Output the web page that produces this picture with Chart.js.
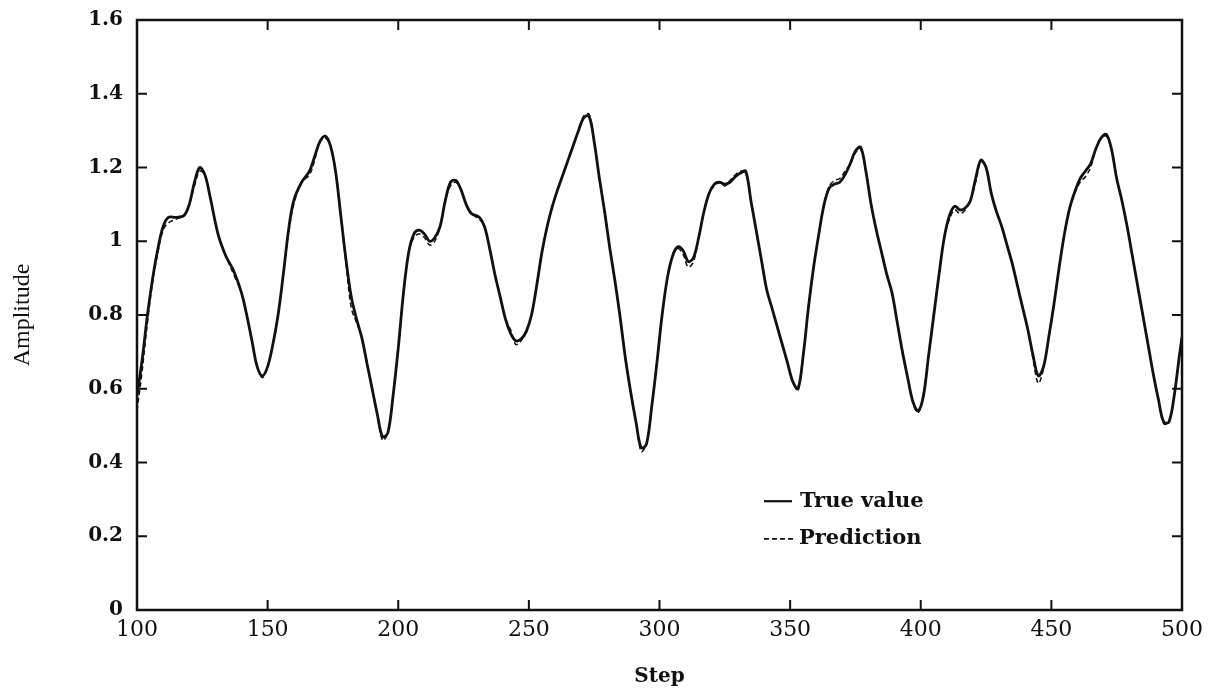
<!DOCTYPE html>
<html>
<head>
<meta charset="utf-8">
<script src="https://cdn.jsdelivr.net/npm/chart.js@4/dist/chart.umd.min.js"></script>
<style>
  html, body { margin:0; padding:0; background:#fff; }
  #wrap { width:1217px; height:692px; }
</style>
</head>
<body>
<div id="wrap"><canvas id="chart" width="1217" height="692"></canvas></div>
<script>
// Datos
const steps = [
  100,102,104,106,108,110,112,115,118,120,
  122,124,126,128,131,134,137,140,142,144,
  146,148,150,152,154,156,158,160,163,166,
  168,170,172,174,176,178,180,182,184,186,
  188,190,192,194,196,198,200,202,204,206,
  208,210,212,214,216,218,220,222,224,226,
  228,231,233,235,237,239,241,243,245,247,
  249,251,253,255,257,259,261,263,265,267,
  269,271,273,275,277,279,281,283,285,287,
  289,291,293,295,297,299,301,303,305,307,
  309,311,313,315,317,319,321,323,325,327,
  329,331,333,335,337,339,341,343,345,347,
  349,351,353,355,357,359,361,363,365,367,
  369,371,373,375,377,379,381,383,385,387,
  389,391,393,395,397,399,401,403,405,407,
  409,411,413,415,417,419,421,423,425,427,
  429,431,433,435,437,439,441,443,445,447,
  449,451,453,455,457,459,461,463,465,467,
  469,471,473,475,477,479,481,483,485,487,
  489,491,493,495,497,499,500
];

const trueValue = [
  0.58,0.68,0.80,0.90,0.98,1.04,1.065,1.065,1.07,1.10,
  1.16,1.20,1.18,1.12,1.02,0.96,0.92,0.86,0.80,0.73,
  0.66,0.635,0.66,0.72,0.80,0.91,1.03,1.11,1.16,1.19,
  1.23,1.27,1.285,1.26,1.19,1.07,0.95,0.85,0.79,0.74,
  0.67,0.60,0.53,0.47,0.48,0.58,0.71,0.86,0.97,1.02,
  1.03,1.02,1.00,1.01,1.04,1.11,1.16,1.165,1.14,1.10,
  1.075,1.065,1.04,0.98,0.91,0.85,0.79,0.75,0.73,0.735,
  0.755,0.80,0.88,0.97,1.04,1.095,1.14,1.18,1.22,1.26,
  1.30,1.335,1.34,1.27,1.17,1.08,0.98,0.89,0.79,0.68,
  0.59,0.51,0.44,0.45,0.55,0.67,0.80,0.90,0.96,0.985,
  0.975,0.945,0.955,1.01,1.08,1.13,1.155,1.16,1.155,1.16,
  1.175,1.185,1.19,1.11,1.03,0.95,0.87,0.82,0.77,0.72,
  0.67,0.62,0.60,0.69,0.82,0.93,1.02,1.10,1.145,1.155,
  1.16,1.18,1.21,1.245,1.255,1.19,1.10,1.03,0.97,0.91,
  0.86,0.78,0.70,0.63,0.565,0.54,0.58,0.69,0.80,0.91,
  1.01,1.07,1.095,1.085,1.09,1.11,1.17,1.22,1.20,1.13,
  1.08,1.04,0.99,0.94,0.88,0.82,0.76,0.69,0.635,0.66,
  0.74,0.83,0.93,1.02,1.09,1.135,1.17,1.19,1.21,1.25,
  1.28,1.29,1.25,1.17,1.11,1.04,0.96,0.88,0.80,0.72,
  0.64,0.57,0.51,0.51,0.58,0.69,0.74
];

const prediction = [
  0.54,0.65,0.78,0.89,0.97,1.03,1.05,1.06,1.07,1.10,
  1.15,1.19,1.18,1.12,1.02,0.96,0.91,0.86,0.80,0.73,
  0.66,0.63,0.66,0.72,0.80,0.91,1.02,1.10,1.16,1.18,
  1.22,1.27,1.28,1.26,1.19,1.07,0.94,0.82,0.78,0.74,
  0.67,0.60,0.53,0.46,0.48,0.58,0.71,0.86,0.97,1.01,
  1.02,1.01,0.99,1.00,1.04,1.11,1.15,1.16,1.14,1.10,
  1.075,1.06,1.04,0.98,0.91,0.85,0.79,0.76,0.72,0.73,
  0.76,0.80,0.88,0.97,1.04,1.095,1.14,1.18,1.22,1.26,
  1.30,1.34,1.345,1.27,1.17,1.08,0.98,0.89,0.79,0.68,
  0.59,0.51,0.43,0.45,0.55,0.67,0.80,0.90,0.96,0.98,
  0.965,0.93,0.945,1.01,1.08,1.13,1.15,1.16,1.15,1.165,
  1.18,1.19,1.185,1.11,1.03,0.95,0.87,0.82,0.77,0.72,
  0.67,0.62,0.595,0.69,0.82,0.93,1.02,1.10,1.15,1.165,
  1.17,1.19,1.21,1.24,1.25,1.19,1.10,1.03,0.97,0.91,
  0.86,0.78,0.70,0.63,0.56,0.535,0.58,0.69,0.80,0.91,
  1.01,1.06,1.085,1.075,1.085,1.11,1.16,1.215,1.20,1.13,
  1.08,1.04,0.99,0.94,0.88,0.82,0.76,0.68,0.615,0.655,
  0.74,0.83,0.93,1.02,1.09,1.13,1.16,1.175,1.20,1.25,
  1.28,1.285,1.25,1.17,1.11,1.04,0.96,0.88,0.80,0.72,
  0.64,0.57,0.505,0.51,0.58,0.69,0.74
];

const xTicks = [100,150,200,250,300,350,400,450,500];
const yTicks = [0,0.2,0.4,0.6,0.8,1,1.2,1.4,1.6];
const yTickLabels = ['0','0.2','0.4','0.6','0.8','1','1.2','1.4','1.6'];
const seriesNames = ['True value','Prediction'];

const INK = '#111';
const serif = "'DejaVu Serif', 'Liberation Serif', serif";
const times = "'Liberation Serif', 'DejaVu Serif', serif";

// Marco con marcas hacia dentro en los cuatro lados + leyenda interna
const framePlugin = {
  id: 'frame',
  afterDraw(chart) {
    const { ctx, chartArea: a, scales: { x, y } } = chart;
    const L = 10;
    ctx.save();
    ctx.strokeStyle = INK;
    ctx.lineWidth = 2.5;
    ctx.strokeRect(a.left, a.top, a.right - a.left, a.bottom - a.top);
    ctx.lineWidth = 2;
    ctx.beginPath();
    xTicks.slice(1, -1).forEach(v => {
      const px = x.getPixelForValue(v);
      ctx.moveTo(px, a.bottom); ctx.lineTo(px, a.bottom - L);
      ctx.moveTo(px, a.top);    ctx.lineTo(px, a.top + L);
    });
    yTicks.slice(1, -1).forEach(v => {
      const py = y.getPixelForValue(v);
      ctx.moveTo(a.left, py);  ctx.lineTo(a.left + L, py);
      ctx.moveTo(a.right, py); ctx.lineTo(a.right - L, py);
    });
    ctx.stroke();

    // leyenda
    const lx = x.getPixelForValue(340);
    const ly1 = y.getPixelForValue(0.295);
    const ly2 = y.getPixelForValue(0.193);
    ctx.lineWidth = 2.2;
    ctx.beginPath();
    ctx.moveTo(lx, ly1); ctx.lineTo(lx + 28, ly1);
    ctx.stroke();
    ctx.lineWidth = 1.8;
    ctx.setLineDash([5, 3]);
    ctx.beginPath();
    ctx.moveTo(lx, ly2); ctx.lineTo(lx + 30, ly2);
    ctx.stroke();
    ctx.setLineDash([]);
    ctx.fillStyle = INK;
    ctx.font = `bold 21px ${serif}`;
    ctx.textBaseline = 'middle';
    ctx.textAlign = 'left';
    ctx.fillText(seriesNames[0], lx + 36, ly1);
    ctx.fillText(seriesNames[1], lx + 35, ly2);
    ctx.restore();
  }
};

const toPoints = vals => steps.map((s, i) => ({ x: s, y: vals[i] }));

new Chart(document.getElementById('chart'), {
  type: 'line',
  data: {
    datasets: [
      {
        label: seriesNames[0],
        data: toPoints(trueValue),
        borderColor: INK,
        borderWidth: 2.8,
        pointRadius: 0,
        tension: 0.35,
        fill: false,
      },
      {
        label: seriesNames[1],
        data: toPoints(prediction),
        borderColor: INK,
        borderWidth: 1.5,
        borderDash: [5, 3],
        pointRadius: 0,
        tension: 0.35,
        fill: false,
      }
    ]
  },
  options: {
    responsive: false,
    animation: false,
    events: [],
    layout: { padding: { top: 20, right: 35, left: 0, bottom: 0 } },
    plugins: { legend: { display: false }, tooltip: { enabled: false } },
    scales: {
      x: {
        type: 'linear',
        min: 100, max: 500,
        afterBuildTicks: s => { s.ticks = xTicks.map(v => ({ value: v })); },
        afterFit: s => { s.height = 82; s.paddingLeft = 0; s.paddingRight = 0; },
        grid: { display: false, drawTicks: false },
        border: { display: false },
        ticks: {
          color: INK,
          padding: 7,
          maxRotation: 0,
          font: { family: serif, size: 22 },
          callback: v => String(v),
        },
        title: {
          display: true,
          text: 'Step',
          color: INK,
          font: { family: serif, size: 20, weight: 'bold' },
          padding: { top: 0, bottom: 3 },
        }
      },
      y: {
        min: 0, max: 1.6,
        afterBuildTicks: s => { s.ticks = yTicks.map(v => ({ value: v })); },
        afterFit: s => { s.width = 137; s.paddingTop = 0; s.paddingBottom = 0; },
        grid: { display: false, drawTicks: false },
        border: { display: false },
        ticks: {
          color: INK,
          padding: 14,
          font: { family: serif, size: 20, weight: 'bold' },
          callback: v => yTickLabels[yTicks.findIndex(t => Math.abs(t - v) < 1e-6)] ?? '',
        },
        title: {
          display: true,
          text: 'Amplitude',
          color: INK,
          font: { family: times, size: 24 },
          padding: { top: 8, bottom: 0 },
        }
      }
    }
  },
  plugins: [framePlugin]
});
</script>
</body>
</html>
